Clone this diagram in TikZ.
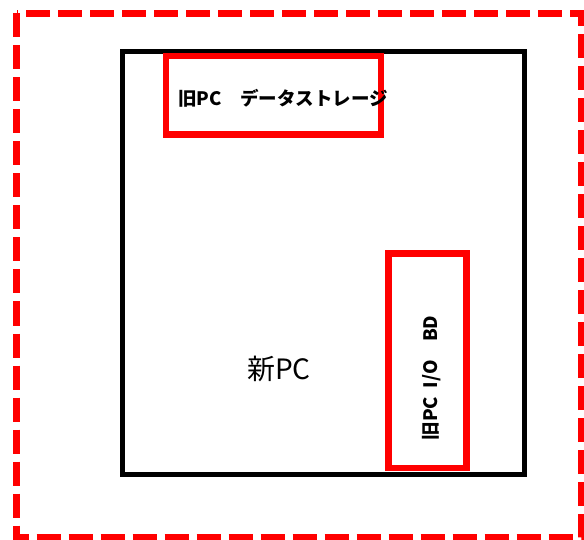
\documentclass[tikz,border=0pt]{standalone}
\usepackage{fontspec}
\newfontfamily\jpfont{Noto Sans CJK JP}
\usetikzlibrary{positioning}
\tikzset{
  outerbox/.style={draw=red, line width=7pt, dash pattern=on 24pt off 8pt},
  pcbox/.style={draw=black, line width=5pt},
  partbox/.style={draw=red, line width=6.5pt},
  partlabel/.style={font=\jpfont\bfseries\fontsize{18.5}{20}\selectfont, inner sep=0pt},
}
\begin{document}
\begin{tikzpicture}[x=1pt, y=-1pt]
  \useasboundingbox (0,0) rectangle (584,540);
  \draw[outerbox] (16.5,13.5) rectangle (581,537.5);
  \draw[pcbox] (122.5,51.5) rectangle (524,474.5);
  \node[font=\jpfont\fontsize{28}{30}\selectfont] (newpc) at (279,369) {新PC};
  \draw[partbox] (166,56) rectangle (381,134.5);
  \node[partlabel] (storage) at (283,98) {旧PC　データストレージ};
  \draw[partbox] (388.5,253.5) rectangle (466.5,468);
  \node[partlabel, rotate=90] (iobd) at (432,378) {旧PC\ \ I/O　BD};
\end{tikzpicture}
\end{document}
